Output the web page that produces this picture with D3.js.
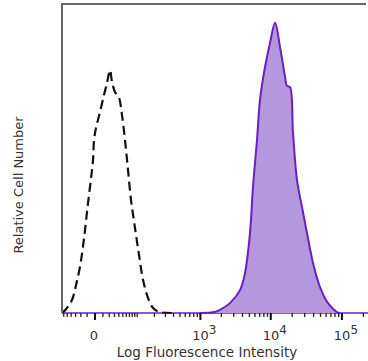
<!DOCTYPE html>
<html>
<head>
<meta charset="utf-8">
<script src="https://cdn.jsdelivr.net/npm/d3@7"></script>
<style>
  body { margin: 0; background: #fff; }
  svg { display: block; }
</style>
</head>
<body>
<div id="chart"></div>
<script>
// isotype control (dashed) — fluorescence value, relative count
const controlX = [-65, -53, -38, -29, -21, -15, -9, -5, -2.3, -1.1, 1.1, 6, 11.6, 16.3, 21.4, 25.1, 31.2, 40.3, 47.8, 56.2, 65.5, 75.6, 90.8, 108, 128, 156, 190, 246, 421]
const controlY = [0, 1.3, 4.2, 9.1, 15.5, 23.6, 35, 43, 49.5, 56, 59.9, 65, 70.6, 74.4, 78.6, 74.8, 71.5, 69.6, 64.1, 56, 46.3, 36.6, 27.5, 18.8, 10.7, 4.9, 1.6, 0.3, 0]

// stained sample (purple)
const stainX = [990, 1620, 1910, 2650, 3680, 4330, 5100, 5620, 6400, 7050, 8300, 9760, 11500, 13500, 15900, 16900, 18650, 20550, 23400, 27500, 32300, 39250, 49200, 63700, 85200, 93800]
const stainY = [0, 0.3, 1, 3.2, 7.4, 12.9, 25.9, 40.8, 56, 68.9, 79.6, 87.4, 93.9, 86.1, 76.4, 73.5, 73.1, 58.3, 43, 34.3, 25.9, 16.2, 8.4, 3.2, 0.3, 0]

const majorTicks = [0, 1e3, 1e4, 1e5]
const tickLabels = ["0", "3", "4", "5"]

const width = 368
const height = 361
const mLeft = 62, mRight = 368, mTop = 4, mBottom = 313

const x = d3.scaleSymlog()
  .constant(34.4)
  .domain([-65.5, 232000])
  .range([mLeft, mRight])

const y = d3.scaleLinear()
  .domain([0, 100])
  .range([mBottom, mTop])

// minor ticks: 1..9 steps in each decade, plus the small negative side
const minors = []
for (let v = -60; v < 0; v += 10) minors.push(v)
;[10, 100, 1000, 10000, 100000].forEach(s => {
  for (let m = 1; m <= 9; m++) minors.push(m * s)
})

const svg = d3.select("#chart").append("svg")
  .attr("width", width)
  .attr("height", height)

const ctrlData = controlX.map((v, i) => [v, controlY[i]])
const stainData = stainX.map((v, i) => [v, stainY[i]])

const area = d3.area()
  .x(d => x(d[0]))
  .y0(y(0))
  .y1(d => y(d[1]))
  .curve(d3.curveCatmullRom)

const line = d3.line()
  .x(d => x(d[0]))
  .y(d => y(d[1]))
  .curve(d3.curveCatmullRom)

// purple baseline along axis
svg.append("line")
  .attr("x1", mLeft).attr("x2", mRight)
  .attr("y1", mBottom).attr("y2", mBottom)
  .attr("stroke", "#6a1fc0")
  .attr("stroke-width", 1.5)

svg.append("path")
  .datum(stainData)
  .attr("fill", "#b497dc")
  .attr("d", area)

svg.append("path")
  .datum(stainData)
  .attr("fill", "none")
  .attr("stroke", "#6a1fc0")
  .attr("stroke-width", 2)
  .attr("d", line)

svg.append("path")
  .datum(ctrlData)
  .attr("fill", "none")
  .attr("stroke", "#111")
  .attr("stroke-width", 2.2)
  .attr("stroke-dasharray", "9,5")
  .attr("d", line)

// frame
svg.append("path")
  .attr("d", `M${mLeft},${mBottom}V${mTop}H${width - 2}`)
  .attr("fill", "none")
  .attr("stroke", "#666")
  .attr("stroke-width", 2)

// x ticks
svg.append("g")
  .selectAll("line")
  .data(minors.filter(v => x(v) >= mLeft && x(v) <= mRight))
  .join("line")
  .attr("x1", d => x(d)).attr("x2", d => x(d))
  .attr("y1", mBottom).attr("y2", mBottom + 4)
  .attr("stroke", "#222")
  .attr("stroke-width", 1.3)

svg.append("g")
  .selectAll("line")
  .data(majorTicks)
  .join("line")
  .attr("x1", d => x(d)).attr("x2", d => x(d))
  .attr("y1", mBottom).attr("y2", mBottom + 7)
  .attr("stroke", "#111")
  .attr("stroke-width", 2)

const labels = svg.append("g")
  .attr("font-family", "DejaVu Sans, Verdana, sans-serif")
  .attr("font-size", 13)
  .attr("fill", "#333")

labels.selectAll("text")
  .data(majorTicks)
  .join("text")
  .attr("x", d => x(d) + (d === 0 ? -1 : 4))
  .attr("y", 340)
  .attr("text-anchor", "middle")
  .each(function(d, i) {
    const t = d3.select(this)
    if (d === 0) { t.text("0"); return }
    t.append("tspan").text("10")
    t.append("tspan").attr("dy", -6).attr("font-size", 12).text(tickLabels[i])
  })

svg.append("text")
  .attr("x", 207)
  .attr("y", 357)
  .attr("text-anchor", "middle")
  .attr("font-family", "DejaVu Sans, Verdana, sans-serif")
  .attr("font-size", 13.5)
  .attr("fill", "#333")
  .text("Log Fluorescence Intensity")

svg.append("text")
  .attr("transform", "translate(23,185) rotate(-90)")
  .attr("text-anchor", "middle")
  .attr("font-family", "DejaVu Sans, Verdana, sans-serif")
  .attr("font-size", 13)
  .attr("fill", "#333")
  .text("Relative Cell Number")
</script>
</body>
</html>
